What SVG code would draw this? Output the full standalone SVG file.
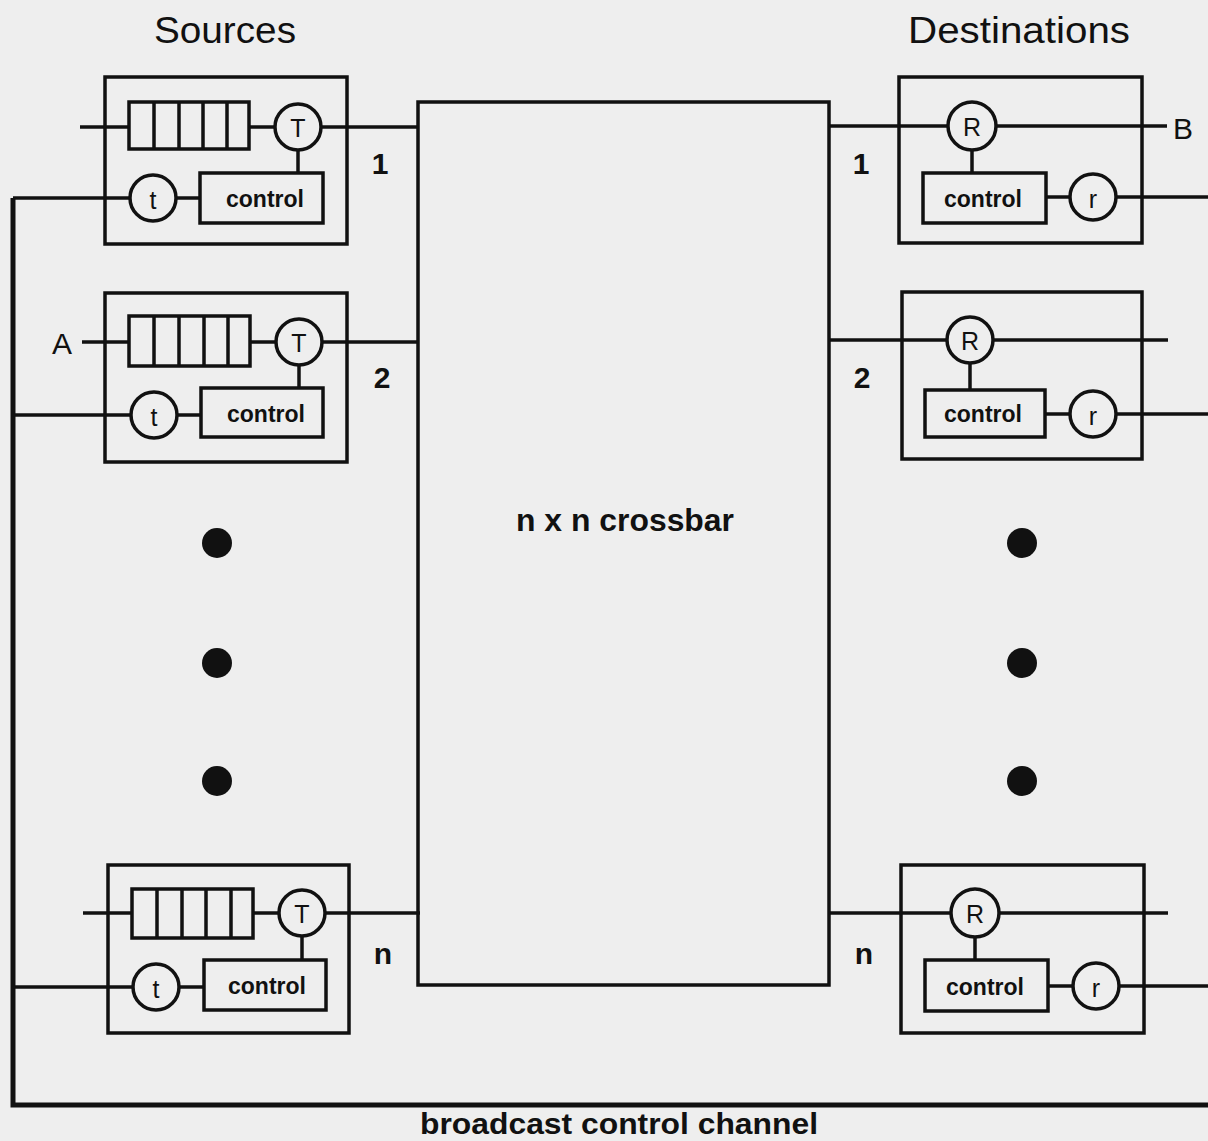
<svg xmlns="http://www.w3.org/2000/svg" width="1208" height="1141" viewBox="0 0 1208 1141">
<style>
.bg{fill:#eeeeee}
.s{fill:none;stroke:#111;stroke-width:3.5}
.box{fill:none;stroke:#111;stroke-width:3.5}
.c{fill:#eeeeee;stroke:#111;stroke-width:3.5}
.t{font-family:"Liberation Sans",Arial,sans-serif;fill:#111;text-anchor:middle;dominant-baseline:central}
.ctl{font-size:23px;font-weight:bold}
.cl{font-size:25px}
.num{font-size:30px;font-weight:bold}
.hd{font-size:36px}
.dot{fill:#111}
</style>
<rect class="bg" x="0" y="0" width="1208" height="1141"/>

<g id="connectors">
  <!-- broadcast control channel bus -->
  <polyline class="s" points="13,198 13,1105 1208,1105" style="stroke-width:5"/>
  <!-- source 1 -->
  <line class="s" x1="80" y1="127" x2="129" y2="127"/>
  <line class="s" x1="249" y1="127" x2="275" y2="127"/>
  <line class="s" x1="321" y1="127" x2="418" y2="127"/>
  <line class="s" x1="298" y1="150" x2="298" y2="173"/>
  <line class="s" x1="13" y1="198" x2="130" y2="198"/>
  <line class="s" x1="176" y1="198" x2="200" y2="198"/>
  <!-- source 2 -->
  <line class="s" x1="82" y1="342" x2="129" y2="342"/>
  <line class="s" x1="250" y1="342" x2="276" y2="342"/>
  <line class="s" x1="322" y1="342" x2="419" y2="342"/>
  <line class="s" x1="299" y1="365" x2="299" y2="388"/>
  <line class="s" x1="13" y1="415" x2="131" y2="415"/>
  <line class="s" x1="177" y1="415" x2="201" y2="415"/>
  <!-- source n -->
  <line class="s" x1="83" y1="913" x2="132" y2="913"/>
  <line class="s" x1="253" y1="913" x2="279" y2="913"/>
  <line class="s" x1="325" y1="913" x2="420" y2="913"/>
  <line class="s" x1="302" y1="936" x2="302" y2="960"/>
  <line class="s" x1="13" y1="987" x2="133" y2="987"/>
  <line class="s" x1="179" y1="987" x2="204" y2="987"/>
  <!-- destination 1 -->
  <line class="s" x1="828" y1="126" x2="948" y2="126"/>
  <line class="s" x1="996" y1="126" x2="1167" y2="126"/>
  <line class="s" x1="972" y1="150" x2="972" y2="173"/>
  <line class="s" x1="1046" y1="197" x2="1070" y2="197"/>
  <line class="s" x1="1116" y1="197" x2="1208" y2="197"/>
  <!-- destination 2 -->
  <line class="s" x1="829" y1="340" x2="947" y2="340"/>
  <line class="s" x1="993" y1="340" x2="1168" y2="340"/>
  <line class="s" x1="970" y1="363" x2="970" y2="390"/>
  <line class="s" x1="1045" y1="414" x2="1070" y2="414"/>
  <line class="s" x1="1116" y1="414" x2="1208" y2="414"/>
  <!-- destination n -->
  <line class="s" x1="830" y1="913" x2="951" y2="913"/>
  <line class="s" x1="999" y1="913" x2="1168" y2="913"/>
  <line class="s" x1="975" y1="937" x2="975" y2="960"/>
  <line class="s" x1="1048" y1="986" x2="1073" y2="986"/>
  <line class="s" x1="1119" y1="986" x2="1208" y2="986"/>
</g>

<g id="crossbar">
  <rect class="box" x="418" y="102" width="411" height="883"/>
  <text class="t" x="625" y="520" style="font-size:31px;font-weight:bold" textLength="218" lengthAdjust="spacingAndGlyphs">n x n crossbar</text>
</g>

<g id="source1">
  <rect class="box" x="105" y="77" width="242" height="167"/>
  <rect class="box" x="129" y="102" width="120" height="47"/>
  <path class="s" d="M154,102V149M179,102V149M203,102V149M227,102V149"/>
  <circle class="c" cx="298" cy="127" r="23"/>
  <text class="t cl" x="298" y="128">T</text>
  <rect class="box" x="200" y="173" width="123" height="50"/>
  <text class="t ctl" x="265" y="199">control</text>
  <circle class="c" cx="153" cy="198" r="23"/>
  <text class="t cl" x="153" y="200">t</text>
</g>

<g id="source2">
  <rect class="box" x="105" y="293" width="242" height="169"/>
  <rect class="box" x="129" y="316" width="121" height="50"/>
  <path class="s" d="M154,316V366M179,316V366M204,316V366M228,316V366"/>
  <circle class="c" cx="299" cy="342" r="23"/>
  <text class="t cl" x="299" y="343">T</text>
  <rect class="box" x="201" y="388" width="122" height="49"/>
  <text class="t ctl" x="266" y="414">control</text>
  <circle class="c" cx="154" cy="415" r="23"/>
  <text class="t cl" x="154" y="417">t</text>
</g>

<g id="sourceN">
  <rect class="box" x="108" y="865" width="241" height="168"/>
  <rect class="box" x="132" y="889" width="121" height="49"/>
  <path class="s" d="M157,889V938M182,889V938M206,889V938M231,889V938"/>
  <circle class="c" cx="302" cy="913" r="23"/>
  <text class="t cl" x="302" y="914">T</text>
  <rect class="box" x="204" y="960" width="122" height="50"/>
  <text class="t ctl" x="267" y="986">control</text>
  <circle class="c" cx="156" cy="987" r="23"/>
  <text class="t cl" x="156" y="989">t</text>
</g>

<g id="dest1">
  <rect class="box" x="899" y="77" width="243" height="166"/>
  <circle class="c" cx="972" cy="126" r="24"/>
  <text class="t cl" x="972" y="127">R</text>
  <rect class="box" x="923" y="173" width="123" height="50"/>
  <text class="t ctl" x="983" y="199">control</text>
  <circle class="c" cx="1093" cy="197" r="23"/>
  <text class="t cl" x="1093" y="199">r</text>
</g>

<g id="dest2">
  <rect class="box" x="902" y="292" width="240" height="167"/>
  <circle class="c" cx="970" cy="340" r="23"/>
  <text class="t cl" x="970" y="341">R</text>
  <rect class="box" x="925" y="390" width="120" height="47"/>
  <text class="t ctl" x="983" y="414">control</text>
  <circle class="c" cx="1093" cy="414" r="23"/>
  <text class="t cl" x="1093" y="416">r</text>
</g>

<g id="destN">
  <rect class="box" x="901" y="865" width="243" height="168"/>
  <circle class="c" cx="975" cy="913" r="24"/>
  <text class="t cl" x="975" y="914">R</text>
  <rect class="box" x="925" y="960" width="123" height="51"/>
  <text class="t ctl" x="985" y="987">control</text>
  <circle class="c" cx="1096" cy="986" r="23"/>
  <text class="t cl" x="1096" y="988">r</text>
</g>

<g id="labels">
  <text class="t hd" x="225" y="30" textLength="142" lengthAdjust="spacingAndGlyphs">Sources</text>
  <text class="t hd" x="1019" y="30" textLength="222" lengthAdjust="spacingAndGlyphs">Destinations</text>
  <text class="t num" x="380" y="163">1</text>
  <text class="t num" x="382" y="377">2</text>
  <text class="t num" x="383" y="953">n</text>
  <text class="t num" x="861" y="163">1</text>
  <text class="t num" x="862" y="377">2</text>
  <text class="t num" x="864" y="953">n</text>
  <text class="t" x="62" y="343" style="font-size:30px">A</text>
  <text class="t" x="1183" y="128" style="font-size:30px">B</text>
  <text class="t" x="619" y="1123" style="font-size:30px;font-weight:bold" textLength="398" lengthAdjust="spacingAndGlyphs">broadcast control channel</text>
</g>

<g id="ellipsis">
  <circle class="dot" cx="217" cy="543" r="15"/>
  <circle class="dot" cx="217" cy="663" r="15"/>
  <circle class="dot" cx="217" cy="781" r="15"/>
  <circle class="dot" cx="1022" cy="543" r="15"/>
  <circle class="dot" cx="1022" cy="663" r="15"/>
  <circle class="dot" cx="1022" cy="781" r="15"/>
</g>
</svg>
